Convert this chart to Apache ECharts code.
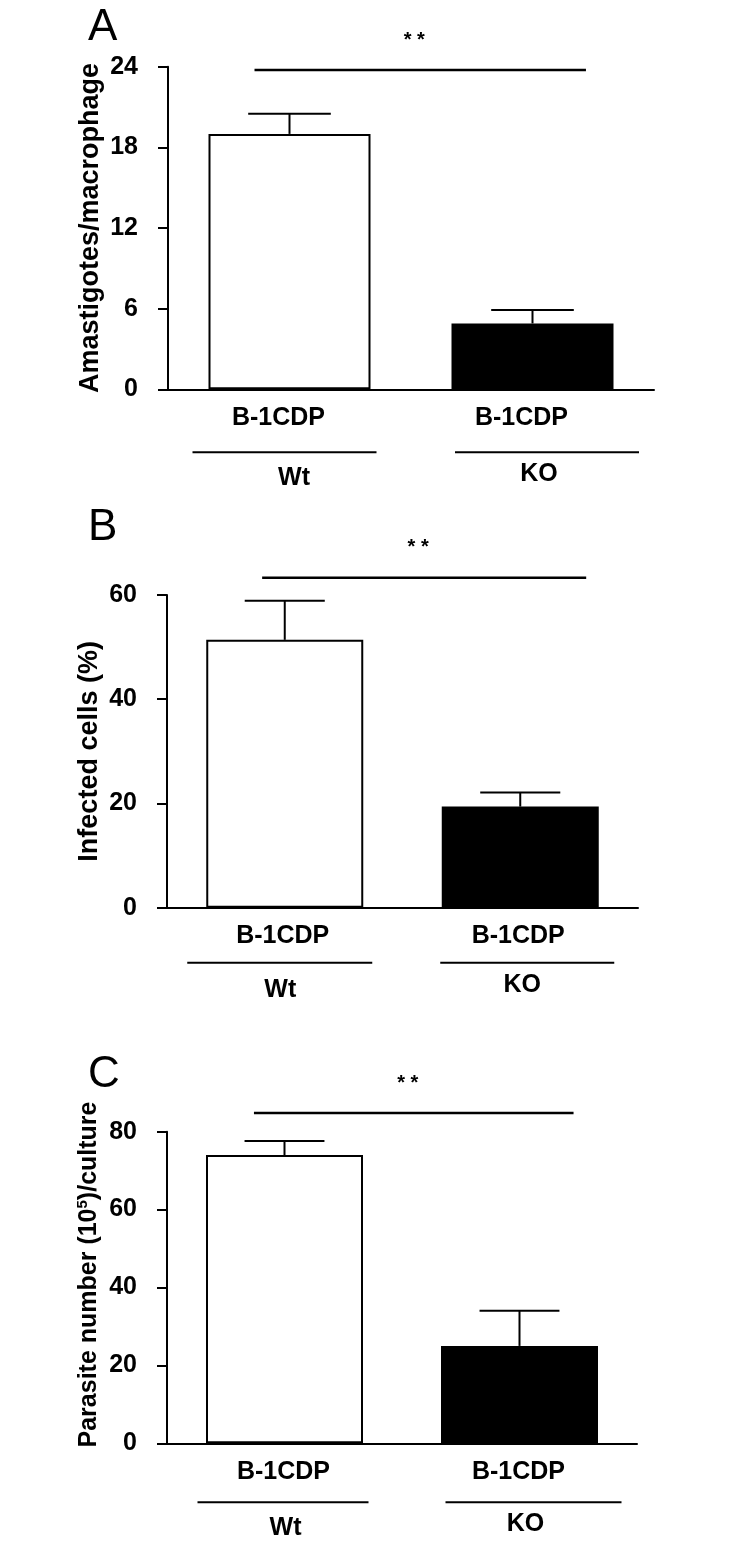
<!DOCTYPE html>
<html><head><meta charset="utf-8">
<script src="https://cdn.jsdelivr.net/npm/echarts@6/dist/echarts.min.js"></script>
<style>html,body{margin:0;padding:0;background:#fff}#c{width:730px;height:1542px}</style>
</head><body><div id="c"></div>
<script>
// ---- data ----
const categories = ['B-1CDP', 'B-1CDP'];
const groups = ['Wt', 'KO'];
const panelLetters = ['A', 'B', 'C'];
const yTitles = ['Amastigotes/macrophage', 'Infected cells (%)', 'Parasite number (10{sup|5})/culture'];
const yMax = [24, 60, 80];
const yInterval = [6, 20, 20];
const meansA = [19.0, 4.9];   const errTopA = [20.5, 5.9];
const meansB = [51.4, 19.4];  const errTopB = [58.9, 22.1];
const meansC = [74.0, 25.0];  const errTopC = [77.6, 34.0];
const sigLevels = [23.75, 63.3, 84.8];
const sigText = '* *';

// ---- layout / style ----
const FONT = '"Liberation Sans", Arial, sans-serif';
const means = [meansA, meansB, meansC];
const errTops = [errTopA, errTopB, errTopC];
const layout = [
  {top: 66.7, height: 322.6, left: 168, right: 76, barW: 162, title: 27, namePad: [0, 0, 0, 0], labelPad: [0, 22, 0, 0],
   sigL: -0.144, sigR: 0.22, grpLineY: 63, grpLblY: [89, 85],
   grpLines: [[-5, 92], [14.5, 92]], grpLblX: [4.5, 6.5], letterTop: 6},
  {top: 595, height: 312.7, left: 167, right: 92, barW: 157, title: 27, namePad: [0, 0, 0, 0], labelPad: [0, 4, 0, 0],
   sigL: -0.096, sigR: 0.28, grpLineY: 55, grpLblY: [82, 77],
   grpLines: [[-5, 92.5], [7, 87]], grpLblX: [-4.5, 2], letterTop: 506},
  {top: 1131.7, height: 311.6, left: 167, right: 93, barW: 157, title: 25, namePad: [0, 0, 0, 26], labelPad: [0, 2, 0, 0],
   sigL: -0.13, sigR: 0.23, grpLineY: 59, grpLblY: [85, 81],
   grpLines: [[-1.5, 85.5], [14, 88]], grpLblX: [1, 6], letterTop: 1053}
];
const barStyles = [
  {color: '#fff', borderColor: '#000', borderWidth: 2},
  {color: '#000', borderColor: '#000', borderWidth: 2}
];

const grid = [], xAxis = [], yAxis = [], series = [], title = [];
layout.forEach((L, p) => {
  grid.push({left: L.left, right: L.right, top: L.top, height: L.height, containLabel: false});
  title.push({text: panelLetters[p], left: 88, top: L.letterTop, padding: 0,
    textStyle: {fontSize: 44, fontWeight: 'normal', color: '#000', fontFamily: FONT}});
  xAxis.push({type: 'category', gridIndex: p, data: categories,
    axisLine: {lineStyle: {color: '#000', width: 2}}, axisTick: {show: false},
    axisLabel: {color: '#000', fontSize: 25, fontWeight: 'bold', fontFamily: FONT, margin: 16, padding: L.labelPad}});
  yAxis.push({type: 'value', gridIndex: p, min: 0, max: yMax[p], interval: yInterval[p],
    name: yTitles[p], nameLocation: 'middle', nameRotate: 90, nameGap: 64, nameMoveOverlap: false,
    nameTextStyle: {color: '#000', fontSize: L.title, fontWeight: 'bold', fontFamily: FONT, padding: L.namePad,
      rich: {sup: {fontSize: 15, fontWeight: 'bold', fontFamily: FONT, color: '#000', verticalAlign: 'top', lineHeight: 28}}},
    axisLine: {show: true, lineStyle: {color: '#000', width: 2}},
    axisTick: {show: true, length: 10, lineStyle: {color: '#000', width: 2}},
    splitLine: {show: false},
    axisLabel: {color: '#000', fontSize: 25, fontWeight: 'bold', fontFamily: FONT, margin: 30}});

  series.push({type: 'bar', xAxisIndex: p, yAxisIndex: p, barWidth: L.barW,
    data: means[p].map((v, i) => ({value: v, itemStyle: barStyles[i]})), animation: false});

  series.push({type: 'custom', xAxisIndex: p, yAxisIndex: p, clip: false, animation: false,
    encode: {x: 0, y: [1, 2]},
    data: means[p].map((v, i) => [i, v, errTops[p][i]]),
    renderItem: (params, api) => {
      const x = api.value(0);
      const base = api.coord([x, api.value(1)]);
      const top = api.coord([x, api.value(2)]);
      const half = api.size([1, 0])[0] * 0.17;
      const st = {stroke: '#000', lineWidth: 2};
      return {type: 'group', children: [
        {type: 'line', shape: {x1: top[0], y1: base[1], x2: top[0], y2: top[1]}, style: st},
        {type: 'line', shape: {x1: top[0] - half, y1: top[1], x2: top[0] + half, y2: top[1]}, style: st}
      ]};
    }});

  // significance bracket
  series.push({type: 'custom', xAxisIndex: p, yAxisIndex: p, clip: false, animation: false,
    encode: {x: 0, y: 2},
    data: [[0, 1, sigLevels[p]]],
    renderItem: (params, api) => {
      const band = api.size([1, 0])[0];
      const p0 = api.coord([api.value(0), api.value(2)]);
      const p1 = api.coord([api.value(1), api.value(2)]);
      const x1 = p0[0] + L.sigL * band, x2 = p1[0] + L.sigR * band;
      return {type: 'group', children: [
        {type: 'line', shape: {x1: x1, y1: p0[1], x2: x2, y2: p0[1]}, style: {stroke: '#000', lineWidth: 2.5}},
        {type: 'text', x: (x1 + x2) / 2 - 6, y: p0[1] - 30,
          style: {text: sigText, fill: '#000', font: 'bold 20px ' + FONT, textAlign: 'center', textVerticalAlign: 'middle'}}
      ]};
    }});

  // group underline + label
  series.push({type: 'custom', xAxisIndex: p, yAxisIndex: p, clip: false, animation: false,
    encode: {x: 0, y: 1},
    data: groups.map((g, i) => [i, 0]),
    renderItem: (params, api) => {
      const i = api.value(0);
      const c = api.coord([i, 0]);
      const gl = L.grpLines[i];
      const cx = c[0] + gl[0];
      return {type: 'group', children: [
        {type: 'line', shape: {x1: cx - gl[1], y1: c[1] + L.grpLineY, x2: cx + gl[1], y2: c[1] + L.grpLineY},
          style: {stroke: '#000', lineWidth: 2}},
        {type: 'text', x: c[0] + L.grpLblX[i], y: c[1] + L.grpLblY[i],
          style: {text: groups[i], fill: '#000', font: 'bold 25px ' + FONT, textAlign: 'center', textVerticalAlign: 'middle'}}
      ]};
    }});
});

const chart = echarts.init(document.getElementById('c'), null, {renderer: 'canvas'});
chart.setOption({backgroundColor: '#fff', animation: false, title, grid, xAxis, yAxis, series});
</script>
</body></html>
